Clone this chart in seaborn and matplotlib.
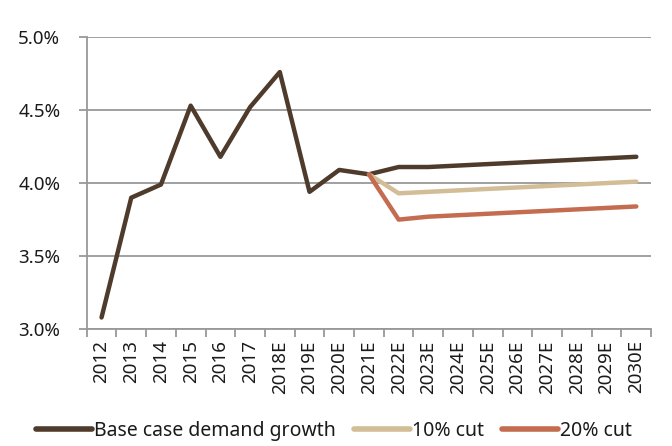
import numpy as np
import pandas as pd
import matplotlib
matplotlib.use("Agg")
import matplotlib.pyplot as plt
import seaborn as sns
from matplotlib.ticker import FixedLocator, FuncFormatter

years = ["2012", "2013", "2014", "2015", "2016", "2017", "2018E", "2019E",
         "2020E", "2021E", "2022E", "2023E", "2024E", "2025E", "2026E",
         "2027E", "2028E", "2029E", "2030E"]
base = [3.08, 3.90, 3.99, 4.53, 4.18, 4.52, 4.76, 3.94, 4.09, 4.06,
        4.11, 4.11, 4.12, 4.13, 4.14, 4.15, 4.16, 4.17, 4.18]
cut10 = [np.nan] * 9 + [4.06, 3.93, 3.94, 3.95, 3.96, 3.97, 3.98, 3.99, 4.00, 4.01]
cut20 = [np.nan] * 9 + [4.06, 3.75, 3.77, 3.78, 3.79, 3.80, 3.81, 3.82, 3.83, 3.84]
series_names = ["Base case demand growth", "10% cut", "20% cut"]
colors = ["#4E3B2C", "#D2BD96", "#C46C4F"]
y_ticks = [3.0, 3.5, 4.0, 4.5, 5.0]

sns.set_theme(style="white")
plt.rcParams['font.family'] = ['Noto Sans', 'DejaVu Sans']

df = pd.DataFrame({"year": years, series_names[0]: base,
                   series_names[1]: cut10, series_names[2]: cut20})
long = df.melt(id_vars="year", var_name="series", value_name="value").dropna()
long["x"] = long["year"].map({y: i for i, y in enumerate(years)})

fig = plt.figure(figsize=(6.72, 4.46), dpi=100)
ax = fig.add_axes([0.129, 0.262, 0.840, 0.655])

sns.lineplot(data=long, x="x", y="value", hue="series", hue_order=series_names,
             palette=colors, linewidth=3.2, ax=ax, sort=True, legend=True,
             solid_capstyle="round", solid_joinstyle="round")

FS = 13.5
ax.set_xlim(-0.5, len(years) - 0.5)
ax.set_ylim(3.0, 5.0)
ax.set_xticks(range(len(years)))
ax.set_xticklabels(years, rotation=90, fontsize=FS, color="#1a1a1a")
ax.xaxis.set_minor_locator(FixedLocator(np.arange(-0.5, len(years), 1.0)))
ax.tick_params(axis="x", which="major", length=0, pad=8)
ax.tick_params(axis="x", which="minor", length=6, width=1.3, color="#999999", bottom=True)
ax.set_yticks(y_ticks)
ax.yaxis.set_major_formatter(FuncFormatter(lambda v, p: f"{v:.1f}%"))
ax.tick_params(axis="y", which="major", length=6, width=1.3, color="#999999",
               labelsize=FS, labelcolor="#1a1a1a", left=True, pad=13)
ax.grid(axis="y", color="#999999", linewidth=1.3)
ax.set_axisbelow(True)
for s in ["top", "right"]:
    ax.spines[s].set_visible(False)
for s in ["left", "bottom"]:
    ax.spines[s].set_color("#999999")
    ax.spines[s].set_linewidth(1.3)
ax.set_xlabel("")
ax.set_ylabel("")

handles, labels = ax.get_legend_handles_labels()
ax.get_legend().remove()
leg = fig.legend(handles, labels, loc="center", bbox_to_anchor=(0.497, 0.034), ncol=3,
                 frameon=False, fontsize=14, handlelength=2.9, handletextpad=0.1,
                 columnspacing=0.9, borderaxespad=0, borderpad=0)
for t in leg.get_texts():
    t.set_color("#1a1a1a")
for h in leg.get_lines():
    h.set_linewidth(4)

fig.savefig("out.png", dpi=100)
